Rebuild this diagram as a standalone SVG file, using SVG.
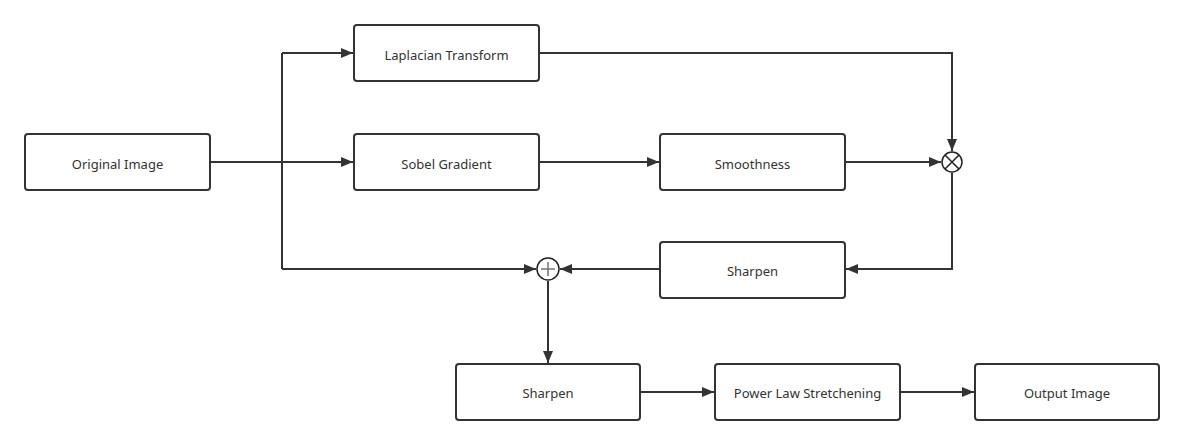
<svg xmlns="http://www.w3.org/2000/svg" width="1184" height="445" viewBox="0 0 1184 445">
<defs>
<style>
.box{fill:#fff;stroke:#333;stroke-width:2}
.lbl{font-family:"Noto Sans","Liberation Sans",sans-serif;font-size:13px;fill:#333;text-anchor:middle;dominant-baseline:central}
.ln{fill:none;stroke:#333;stroke-width:2}
.op{fill:#fff;stroke:#222;stroke-width:1.5}
</style>
<marker id="arr" viewBox="0 0 12 10" refX="12" refY="5" markerWidth="12" markerHeight="10" markerUnits="userSpaceOnUse" orient="auto">
<path d="M0,0 L12,5 L0,10 Z" fill="#333"/>
</marker>
</defs>
<rect width="1184" height="445" fill="#fff"/>
<g id="connectors">
<path class="ln" d="M210,162 L282,162"/>
<path class="ln" d="M282,53 L282,269"/>
<path class="ln" d="M282,53 L353,53" marker-end="url(#arr)"/>
<path class="ln" d="M282,162 L353,162" marker-end="url(#arr)"/>
<path class="ln" d="M539,162 L659,162" marker-end="url(#arr)"/>
<path class="ln" d="M539,53 L952,53 L952,151" marker-end="url(#arr)"/>
<path class="ln" d="M845,162 L941,162" marker-end="url(#arr)"/>
<path class="ln" d="M952,173 L952,269 L846,269" marker-end="url(#arr)"/>
<path class="ln" d="M660,269 L560,269" marker-end="url(#arr)"/>
<path class="ln" d="M282,269 L536,269" marker-end="url(#arr)"/>
<path class="ln" d="M548,281 L548,363" marker-end="url(#arr)"/>
<path class="ln" d="M640,392 L714,392" marker-end="url(#arr)"/>
<path class="ln" d="M900,392 L974,392" marker-end="url(#arr)"/>
</g>
<g id="original">
<rect class="box" x="25" y="134" width="185" height="56" rx="3"/>
<text class="lbl" x="117.5" y="163.5">Original Image</text>
</g>
<g id="laplacian">
<rect class="box" x="354" y="25" width="185" height="56" rx="3"/>
<text class="lbl" x="446.5" y="54.5">Laplacian Transform</text>
</g>
<g id="sobel">
<rect class="box" x="354" y="134" width="185" height="56" rx="3"/>
<text class="lbl" x="446.5" y="163.5">Sobel Gradient</text>
</g>
<g id="smoothness">
<rect class="box" x="660" y="134" width="185" height="56" rx="3"/>
<text class="lbl" x="752.5" y="163.5">Smoothness</text>
</g>
<g id="multiply">
<circle class="op" cx="952" cy="162" r="10"/>
<path d="M945,155 L959,169 M959,155 L945,169" stroke="#222" stroke-width="1.5"/>
</g>
<g id="sharpen1">
<rect class="box" x="660" y="242" width="185" height="56" rx="3"/>
<text class="lbl" x="752.5" y="271">Sharpen</text>
</g>
<g id="add">
<circle class="op" cx="548" cy="269" r="11"/>
<path d="M541,269 L555,269 M548,262 L548,276" stroke="#777" stroke-width="1.5"/>
</g>
<g id="sharpen2">
<rect class="box" x="456" y="364" width="184" height="56" rx="3"/>
<text class="lbl" x="548" y="393">Sharpen</text>
</g>
<g id="powerlaw">
<rect class="box" x="715" y="364" width="185" height="56" rx="3"/>
<text class="lbl" x="807.5" y="393">Power Law Stretchening</text>
</g>
<g id="output">
<rect class="box" x="975" y="364" width="184" height="56" rx="3"/>
<text class="lbl" x="1067" y="393">Output Image</text>
</g>
</svg>
